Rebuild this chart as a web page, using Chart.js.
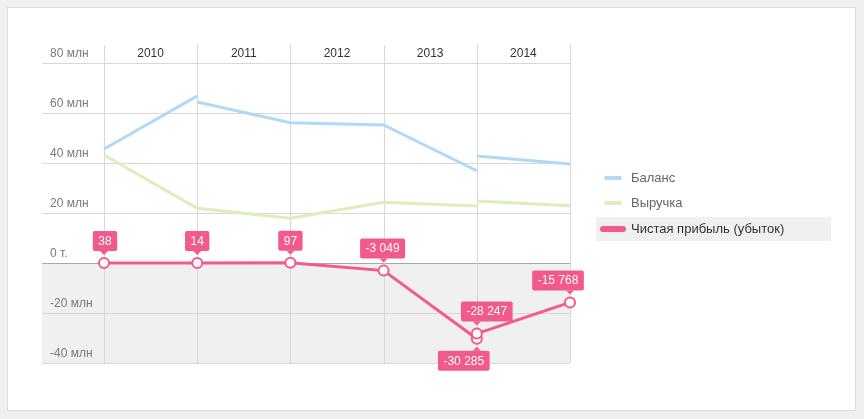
<!DOCTYPE html>
<html>
<head>
<meta charset="utf-8">
<script src="https://cdn.jsdelivr.net/npm/chart.js@4"></script>
<style>
  html, body { margin: 0; padding: 0; background: #efefef; }
  canvas { display: block; }
</style>
</head>
<body>
<canvas id="finChart" width="864" height="419"></canvas>
<script>
// values in thousands of rubles
const years = ['2010', '2011', '2012', '2013', '2014'];
const yTicks = [80000, 60000, 40000, 20000, 0, -20000, -40000];
const balanceX = [0, 1, 1, 1, 2, 3, 4, 4, 4, 5];
const balanceY = [45600, 66800, null, 64400, 56100, 55200, 36900, null, 42800, 39600];
const revenueX = [0, 1, 2, 3, 4, 4, 4, 5];
const revenueY = [43200, 21900, 17900, 24300, 22800, null, 24800, 22900];
const profitX = [0, 1, 2, 3, 4, 4, 4, 5];
const profitY = [38, 14, 97, -3049, -30285, null, -28247, -15768];
const profitLabelSide = ['up', 'up', 'up', 'up', 'down', null, 'up', 'up'];
const profitLabelShift = [1, 0, 0, -1, -13, 0, 10, -12];

const BLUE = '#b0d9f7';
const GREEN = '#dcefbb';
const PINK = '#f25a8c';
const FONT = '"Liberation Sans", Arial, sans-serif';

const toPoints = (xs, ys) => xs.map((x, i) => ({ x: x, y: ys[i] }));

const fmtThousands = v => {
    const s = Math.abs(v).toString().replace(/\B(?=(\d{3})+(?!\d))/g, ' ');
    return (v < 0 ? '-' : '') + s;
};
const fmtTick = v => v === 0 ? '0 т.' : (v / 1000) + ' млн';

const LEFT_EDGE = 42;
const HEADER_TOP = 45;

const frame = {
    id: 'frame',
    beforeDraw(chart) {
        const ctx = chart.ctx;
        const { x, y } = chart.scales;
        const area = chart.chartArea;
        ctx.save();
        ctx.fillStyle = '#efefef';
        ctx.fillRect(0, 0, chart.width, chart.height);
        ctx.fillStyle = '#ffffff';
        ctx.fillRect(7, 7, 849, 404);
        ctx.strokeStyle = '#dcdcdc';
        ctx.lineWidth = 1;
        ctx.strokeRect(7.5, 7.5, 848, 403);

        // negative zone
        const y0 = y.getPixelForValue(0);
        const yMin = y.getPixelForValue(y.min);
        ctx.fillStyle = '#f0f0f0';
        ctx.fillRect(LEFT_EDGE, y0, area.right - LEFT_EDGE, yMin - y0);

        // horizontal grid + tick labels
        ctx.font = '12px ' + FONT;
        ctx.textBaseline = 'middle';
        ctx.textAlign = 'left';
        yTicks.forEach(v => {
            const py = Math.round(y.getPixelForValue(v)) + 0.5;
            ctx.strokeStyle = v === 0 ? '#a8a8a8' : '#d8d8d8';
            ctx.beginPath();
            ctx.moveTo(LEFT_EDGE, py);
            ctx.lineTo(area.right, py);
            ctx.stroke();
            ctx.fillStyle = '#7a7a7a';
            ctx.fillText(fmtTick(v), 50, py - 10);
        });

        // vertical grid + year labels
        for (let i = 0; i <= years.length; i++) {
            const px = Math.round(x.getPixelForValue(i)) + 0.5;
            ctx.strokeStyle = '#d8d8d8';
            ctx.beginPath();
            ctx.moveTo(px, HEADER_TOP);
            ctx.lineTo(px, area.bottom);
            ctx.stroke();
        }
        ctx.textAlign = 'center';
        ctx.fillStyle = '#333333';
        years.forEach((yr, i) => {
            const cx = (x.getPixelForValue(i) + x.getPixelForValue(i + 1)) / 2;
            ctx.fillText(yr, cx, 54);
        });
        ctx.restore();
    },
    afterDatasetsDraw(chart) {
        const ctx = chart.ctx;
        const meta = chart.getDatasetMeta(2);
        ctx.save();
        ctx.font = '12px ' + FONT;
        ctx.textAlign = 'center';
        ctx.textBaseline = 'middle';
        meta.data.forEach((pt, i) => {
            const v = profitY[i];
            if (v === null || !profitLabelSide[i]) return;
            const txt = fmtThousands(v);
            const w = ctx.measureText(txt).width + 11;
            const h = 20;
            const up = profitLabelSide[i] === 'up';
            const cx = pt.x + profitLabelShift[i];
            const bx = cx - w / 2;
            const by = up ? pt.y - 12 - h : pt.y + 12;
            ctx.fillStyle = PINK;
            ctx.beginPath();
            ctx.roundRect(bx, by, w, h, 2);
            ctx.fill();
            ctx.beginPath();
            if (up) {
                ctx.moveTo(pt.x - 4, by + h);
                ctx.lineTo(pt.x + 4, by + h);
                ctx.lineTo(pt.x, by + h + 4);
            } else {
                ctx.moveTo(pt.x - 4, by);
                ctx.lineTo(pt.x + 4, by);
                ctx.lineTo(pt.x, by - 4);
            }
            ctx.fill();
            ctx.fillStyle = '#ffffff';
            ctx.fillText(txt, cx, by + h / 2 + 0.5);
        });
        ctx.restore();
    },
    afterDraw(chart) {
        const ctx = chart.ctx;
        ctx.save();
        // highlighted legend row
        ctx.fillStyle = '#f0f0f0';
        ctx.fillRect(596, 217, 235, 24);
        ctx.font = '13px ' + FONT;
        ctx.textBaseline = 'middle';
        ctx.textAlign = 'left';
        const rows = [178, 203, 229];
        chart.data.datasets.forEach((ds, i) => {
            const cy = rows[i];
            ctx.strokeStyle = ds.borderColor;
            ctx.lineCap = 'round';
            if (i === 2) {
                ctx.lineWidth = 6;
                ctx.beginPath();
                ctx.moveTo(603, cy);
                ctx.lineTo(623, cy);
                ctx.stroke();
                ctx.fillStyle = '#333333';
            } else {
                ctx.lineWidth = 4;
                ctx.beginPath();
                ctx.moveTo(606, cy);
                ctx.lineTo(620, cy);
                ctx.stroke();
                ctx.fillStyle = '#666666';
            }
            ctx.fillText(ds.label, 631, cy);
        });
        ctx.restore();
    }
};

new Chart(document.getElementById('finChart'), {
    type: 'line',
    data: {
        datasets: [{
            label: 'Баланс',
            data: toPoints(balanceX, balanceY),
            borderColor: BLUE,
            borderWidth: 3,
            pointRadius: 0,
            spanGaps: false
        }, {
            label: 'Выручка',
            data: toPoints(revenueX, revenueY),
            borderColor: GREEN,
            borderWidth: 3,
            pointRadius: 0,
            spanGaps: false
        }, {
            label: 'Чистая прибыль (убыток)',
            data: toPoints(profitX, profitY),
            borderColor: PINK,
            borderWidth: 3,
            pointRadius: 5,
            pointBorderWidth: 2,
            pointBackgroundColor: '#ffffff',
            pointBorderColor: PINK,
            spanGaps: false
        }]
    },
    options: {
        responsive: false,
        animation: false,
        clip: false,
        layout: { padding: { left: 104, right: 294, top: 63, bottom: 56 } },
        scales: {
            x: { type: 'linear', min: 0, max: 5, display: false },
            y: { min: -40000, max: 80000, display: false }
        },
        plugins: {
            legend: { display: false },
            tooltip: { enabled: false }
        }
    },
    plugins: [frame]
});
</script>
</body>
</html>
